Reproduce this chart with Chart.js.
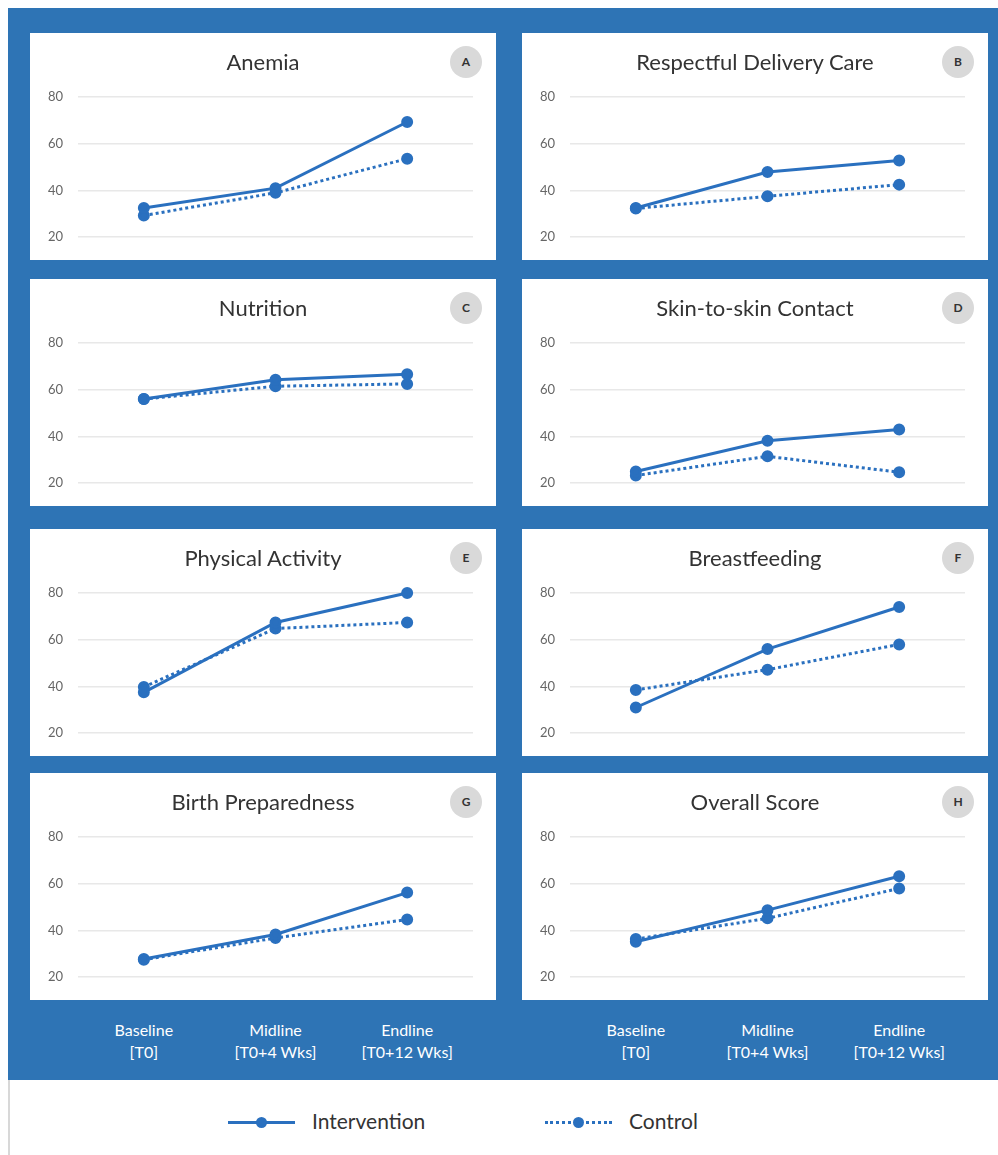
<!DOCTYPE html>
<html>
<head>
<meta charset="utf-8">
<script src="https://cdn.jsdelivr.net/npm/chart.js@4.4.1/dist/chart.umd.min.js"></script>
<style>
  body { margin: 0; background: #fff; font-family: Lato, "Open Sans", sans-serif; }
  #page { position: relative; width: 998px; height: 1155px; overflow: hidden; }
  #band { position: absolute; left: 8px; top: 8px; width: 990px; height: 1072px; background: #2e74b5; }
  #edge { position: absolute; left: 8px; top: 1080px; width: 2px; height: 75px; background: #d8d8d8; }
  .panel { position: absolute; width: 466px; height: 227px; background: #fff; }
  .panel canvas { position: absolute; left: 0; top: 0; }
  .title { position: absolute; left: 0; right: 0; top: 15px; text-align: center; font-size: 22px; color: #333; }
  .badge { position: absolute; left: 420px; top: 13px; width: 32px; height: 32px; border-radius: 50%;
           background: #d9d9d9; color: #333; font-size: 12px; font-weight: bold; text-align: center; line-height: 32px; }
  .xlab { position: absolute; top: 1019px; transform: translateX(-50%); color: #fff; font-size: 16px;
          line-height: 22px; text-align: center; white-space: nowrap; }
  .leg { position: absolute; font-size: 21px; color: #333; }
  .sample { position: absolute; width: 67px; height: 0; }
  .dot { position: absolute; left: 28px; width: 11px; height: 11px; border-radius: 50%; background: #2a70bf; }
</style>
</head>
<body>
<div id="page">
  <div id="band"></div>
  <div id="edge"></div>
</div>
<script>
// time points on the x axis (two text lines each)
const timePoints = [['Baseline', '[T0]'], ['Midline', '[T0+4 Wks]'], ['Endline', '[T0+12 Wks]']];
const panelTitles = ['Anemia', 'Respectful Delivery Care', 'Nutrition', 'Skin-to-skin Contact',
                     'Physical Activity', 'Breastfeeding', 'Birth Preparedness', 'Overall Score'];
const panelLetters = ['A', 'B', 'C', 'D', 'E', 'F', 'G', 'H'];
const yTicks = [20, 40, 60, 80];

// scores per panel: baseline, midline, endline
const interventionScores = [
  [32.5, 41.0, 69.3],
  [32.5, 47.9, 52.8],
  [56.0, 64.3, 66.6],
  [25.0, 38.2, 43.0],
  [37.5, 67.4, 80.0],
  [31.0, 56.0, 74.0],
  [27.8, 38.3, 56.2],
  [35.2, 48.7, 63.2]
];
const controlScores = [
  [29.3, 39.0, 53.6],
  [32.3, 37.5, 42.5],
  [56.0, 61.5, 62.5],
  [23.3, 31.5, 24.7],
  [39.8, 64.8, 67.4],
  [38.5, 47.2, 58.0],
  [27.5, 36.8, 44.7],
  [36.3, 45.2, 58.0]
];

const lineBlue = '#2a70bf';
const colLeft = [30, 522];
const rowTop = [33, 279, 529, 773];
const page = document.getElementById('page');

panelTitles.forEach((title, i) => {
    const left = colLeft[i % 2];
    const top = rowTop[Math.floor(i / 2)];

    const panel = document.createElement('div');
    panel.className = 'panel';
    panel.style.left = left + 'px';
    panel.style.top = top + 'px';
    panel.innerHTML = '<canvas width="466" height="227"></canvas>' +
        '<div class="title">' + title + '</div>' +
        '<div class="badge">' + panelLetters[i] + '</div>';
    page.appendChild(panel);

    const chart = new Chart(panel.querySelector('canvas'), {
        type: 'line',
        data: {
            labels: timePoints.map(t => t.join(' ')),
            datasets: [{
                label: 'Intervention',
                data: interventionScores[i],
                borderColor: lineBlue,
                backgroundColor: lineBlue,
                borderWidth: 3,
                pointRadius: 4.5,
                clip: false
            }, {
                label: 'Control',
                data: controlScores[i],
                borderColor: lineBlue,
                backgroundColor: lineBlue,
                borderWidth: 3,
                borderDash: [3, 3],
                pointRadius: 4.5,
                clip: false
            }]
        },
        options: {
            responsive: false,
            animation: false,
            layout: { padding: { top: 64, right: 23, bottom: 19, left: 0 } },
            plugins: { legend: { display: false }, tooltip: { enabled: false } },
            scales: {
                x: { display: false, offset: true },
                y: {
                    min: 20, max: 80,
                    afterFit: (s) => { s.width = 48; },
                    afterBuildTicks: (s) => { s.ticks = yTicks.map(v => ({ value: v })); },
                    border: { display: false },
                    grid: { color: '#e8e8e8', lineWidth: 1.5, drawTicks: false },
                    ticks: { padding: 15, color: '#666', font: { family: 'Lato', size: 13 } }
                }
            }
        }
    });

    // time point labels under the bottom row
    if (Math.floor(i / 2) === 3) {
        timePoints.forEach((t, k) => {
            const lab = document.createElement('div');
            lab.className = 'xlab';
            lab.style.left = (left + chart.scales.x.getPixelForValue(k)) + 'px';
            lab.innerHTML = t[0] + '<br>' + t[1];
            page.appendChild(lab);
        });
    }
});

// legend
function addLegend(x, text, style) {
    const s = document.createElement('div');
    s.className = 'sample';
    s.style.left = x + 'px';
    s.style.top = '1121px';
    s.style.borderTop = style;
    s.innerHTML = '<div class="dot" style="top:-7px"></div>';
    page.appendChild(s);
    const t = document.createElement('div');
    t.className = 'leg';
    t.style.left = (x + 84) + 'px';
    t.style.top = '1108px';
    t.textContent = text;
    page.appendChild(t);
}
addLegend(228, 'Intervention', '3.5px solid ' + lineBlue);
addLegend(545, 'Control', '3px dotted ' + lineBlue);
</script>
</body>
</html>
